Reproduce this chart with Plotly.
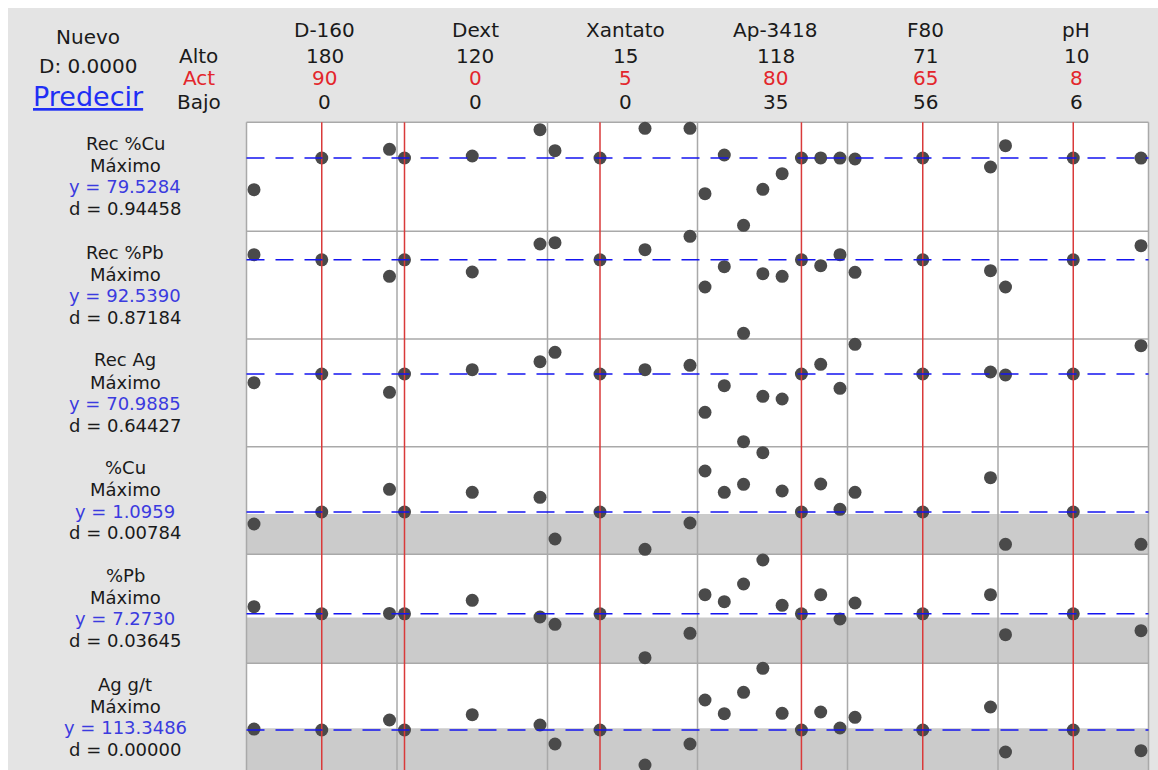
import plotly.graph_objects as go

W, H = 1158, 770
FONT = "DejaVu Sans"

# ---- factors (header block) ----
factors = ["D-160", "Dext", "Xantato", "Ap-3418", "F80", "pH"]
alto = [180, 120, 15, 118, 71, 10]
act = [90, 0, 5, 80, 65, 8]
bajo = [0, 0, 0, 35, 56, 6]

# levels at which each factor is evaluated
d160_levels = [0, 90, 180]
dext_levels = [0, 60, 120]
xantato_levels = [0, 5, 10, 15]
ap3418_levels = [35, 44, 53, 62, 71, 80, 99, 118]
f80_levels = [56, 65, 71]
ph_levels = [6, 8, 10]
factor_levels = [d160_levels, dext_levels, xantato_levels,
                 ap3418_levels, f80_levels, ph_levels]

# ---- responses ----
responses = ["Rec %Cu", "Rec %Pb", "Rec Ag", "%Cu", "%Pb", "Ag g/t"]
goals = ["Máximo", "Máximo", "Máximo", "Máximo", "Máximo", "Máximo"]
y_pred = [79.5284, 92.5390, 70.9885, 1.0959, 7.2730, 113.3486]
d_ind = ["0.94458", "0.87184", "0.64427", "0.00784", "0.03645", "0.00000"]
lower_bound = [None, None, None, 1.076, 7.088, 115.05]
composite_d = "0.0000"

# predicted response at every level of each factor (others at current setting)
rec_cu = [
    [71.60, 79.5284, 81.70],
    [79.5284, 80.03, 86.60],
    [81.35, 79.5284, 86.95, 86.95],
    [70.60, 80.28, 62.70, 71.70, 75.60, 79.5284, 79.55, 79.50],
    [79.28, 79.5284, 77.28],
    [82.60, 79.5284, 79.50],
]
rec_pb = [
    [93.05, 92.5390, 90.89],
    [92.5390, 91.32, 94.12],
    [94.25, 92.5390, 93.55, 94.89],
    [89.82, 91.85, 85.19, 91.15, 90.89, 92.5390, 91.95, 93.05],
    [91.29, 92.5390, 91.45],
    [89.82, 92.5390, 93.95],
]
rec_ag = [
    [69.25, 70.9885, 67.33],
    [70.9885, 71.85, 73.45],
    [75.33, 70.9885, 71.85, 72.73],
    [63.33, 68.65, 57.45, 66.53, 65.99, 70.9885, 72.93, 68.13],
    [76.93, 70.9885, 71.39],
    [70.79, 70.9885, 76.65],
]
pct_cu = [
    [0.976, 1.0959, 1.323],
    [1.0959, 1.293, 1.243],
    [0.826, 1.0959, 0.723, 0.986],
    [1.506, 1.293, 1.373, 1.689, 1.306, 1.0959, 1.376, 1.123],
    [1.293, 1.0959, 1.439],
    [0.773, 1.0959, 0.773],
]
pct_pb = [
    [7.628, 7.2730, 7.290],
    [7.2730, 7.948, 7.113],
    [6.748, 7.2730, 5.078, 6.298],
    [8.228, 7.878, 8.763, 9.963, 7.698, 7.2730, 8.228, 7.013],
    [7.813, 7.2730, 8.228],
    [6.228, 7.2730, 6.428],
]
ag_gt = [
    [114.30, 113.3486, 123.35],
    [113.3486, 128.65, 118.35],
    [99.35, 113.3486, 78.35, 99.35],
    [143.35, 129.65, 151.05, 175.05, 130.05, 113.3486, 131.35, 115.35],
    [126.05, 113.3486, 136.35],
    [91.35, 113.3486, 92.65],
]
response_values = [rec_cu, rec_pb, rec_ag, pct_cu, pct_pb, ag_gt]

# ---- styling / geometry ----
BG = "#e4e4e4"
GRID = "#a9a9a9"
BAND = "#cbcbcb"
DOT = "#4a4a4a"
RED = "#d93a3a"
BLUE = "#1515f0"
TXT = "#1a1a1a"
TXT_RED = "#e3262c"
TXT_BLUE = "#3b3bdf"

x_edges = [246.5, 397, 547.5, 697.5, 847.5, 998, 1148.5]
y_edges = [122.3, 231.3, 339, 446.7, 554.3, 663.3, 770]
y_ranges = [
    [61.20, 88.45],
    [84.62, 95.39],
    [56.45, 77.99],
    [0.673, 1.749],
    [4.798, 10.248],
    [73.35, 180.05],
]


def px(x):
    return x / W


def py(y):
    return 1 - y / H


def ax_id(prefix, i):
    return prefix if i == 0 else f"{prefix}{i + 1}"


fig = go.Figure()

for r, vals in enumerate(response_values):
    for c, lv in enumerate(factor_levels):
        fig.add_trace(go.Scatter(
            x=[str(v) for v in lv], y=vals[c],
            xaxis=ax_id("x", c), yaxis=ax_id("y", r),
            mode="markers",
            marker=dict(size=13, color=DOT, line=dict(width=0)),
            cliponaxis=False, hoverinfo="skip", showlegend=False,
        ))

layout_axes = {}
for c, lv in enumerate(factor_levels):
    n = len(lv)
    width_px = x_edges[c + 1] - x_edges[c]
    step = (width_px - 15) / (n - 1)
    pad = 7.5 / step
    layout_axes["xaxis" if c == 0 else f"xaxis{c + 1}"] = dict(
        domain=[px(x_edges[c]), px(x_edges[c + 1])],
        type="category", categoryorder="array",
        categoryarray=[str(v) for v in lv],
        range=[-pad, n - 1 + pad], anchor="y",
        showgrid=False, zeroline=False, showline=False,
        showticklabels=False, ticks="", fixedrange=True,
    )
for r in range(6):
    layout_axes["yaxis" if r == 0 else f"yaxis{r + 1}"] = dict(
        domain=[py(y_edges[r + 1]), py(y_edges[r])],
        range=y_ranges[r], anchor="x",
        showgrid=False, zeroline=False, showline=False,
        showticklabels=False, ticks="", fixedrange=True,
    )

shapes = []
# white page edges
shapes.append(dict(type="rect", xref="paper", yref="paper", x0=0, x1=1,
                   y0=py(8), y1=1, fillcolor="white", line=dict(width=0),
                   layer="below"))
shapes.append(dict(type="rect", xref="paper", yref="paper", x0=0, x1=px(8),
                   y0=0, y1=1, fillcolor="white", line=dict(width=0),
                   layer="below"))
# shaded zone below each response's lower bound
for r, lb in enumerate(lower_bound):
    if lb is None:
        continue
    shapes.append(dict(type="rect", xref="paper", yref=ax_id("y", r),
                       x0=px(x_edges[0]), x1=px(x_edges[-1]),
                       y0=y_ranges[r][0], y1=lb,
                       fillcolor=BAND, line=dict(width=0), layer="below"))
# cell borders
for xe in x_edges:
    shapes.append(dict(type="line", xref="paper", yref="paper",
                       x0=px(xe), x1=px(xe), y0=0, y1=py(y_edges[0]),
                       line=dict(color=GRID, width=1.5), layer="below"))
for ye in y_edges[:-1]:
    shapes.append(dict(type="line", xref="paper", yref="paper",
                       x0=px(x_edges[0]), x1=px(x_edges[-1]),
                       y0=py(ye), y1=py(ye),
                       line=dict(color=GRID, width=1.5), layer="below"))
# current factor settings
for c, lv in enumerate(factor_levels):
    k = lv.index(act[c])
    shapes.append(dict(type="line", xref=ax_id("x", c), yref="paper",
                       x0=k, x1=k, y0=0, y1=py(y_edges[0]),
                       line=dict(color=RED, width=1.5), layer="above"))
# predicted response at current settings
for r, yv in enumerate(y_pred):
    shapes.append(dict(type="line", xref="paper", yref=ax_id("y", r),
                       x0=px(x_edges[0]), x1=px(x_edges[-1]), y0=yv, y1=yv,
                       line=dict(color=BLUE, width=1.5, dash="18px,11px"),
                       layer="above"))

annotations = []


def label(text, x, y, size=20, color=TXT, **font_extra):
    annotations.append(dict(
        xref="paper", yref="paper", x=px(x), y=py(y), text=text,
        showarrow=False, xanchor="center", yanchor="middle", borderpad=0,
        font=dict(family=FONT, size=size, color=color, **font_extra),
    ))


# top-left block
label("Nuevo", 88, 37)
label(f"D: {composite_d}", 88, 66)
label("Predecir", 88, 97, size=27, color="#1f2ff5", lineposition="under")

# factor rows: high / current / low
HDR_Y = [30, 55.5, 78, 102]
label("Alto", 198, HDR_Y[1])
label("Act", 199, HDR_Y[2], color=TXT_RED)
label("Bajo", 199, HDR_Y[3])

for c, name in enumerate(factors):
    cx = (x_edges[c] + x_edges[c + 1]) / 2 + 3
    label(name, cx, HDR_Y[0])
    label(str(alto[c]), cx, HDR_Y[1])
    label(str(act[c]), cx, HDR_Y[2], color=TXT_RED)
    label(str(bajo[c]), cx, HDR_Y[3])

# response labels (tightly stacked lines)
ROW_FONT = 18
for r, name in enumerate(responses):
    top = y_edges[r]
    label(name, 125, top + 21, size=ROW_FONT)
    label(goals[r], 125, top + 43, size=ROW_FONT)
    label(f"y = {y_pred[r]:.4f}", 125, top + 64.5, size=ROW_FONT,
          color=TXT_BLUE)
    label(f"d = {d_ind[r]}", 125, top + 86, size=ROW_FONT)

fig.update_layout(
    width=W, height=H,
    margin=dict(l=0, r=0, t=0, b=0),
    paper_bgcolor=BG, plot_bgcolor="white",
    shapes=shapes, annotations=annotations,
    showlegend=False,
    **layout_axes,
)

fig.write_html("out.html", config={"displayModeBar": False})
